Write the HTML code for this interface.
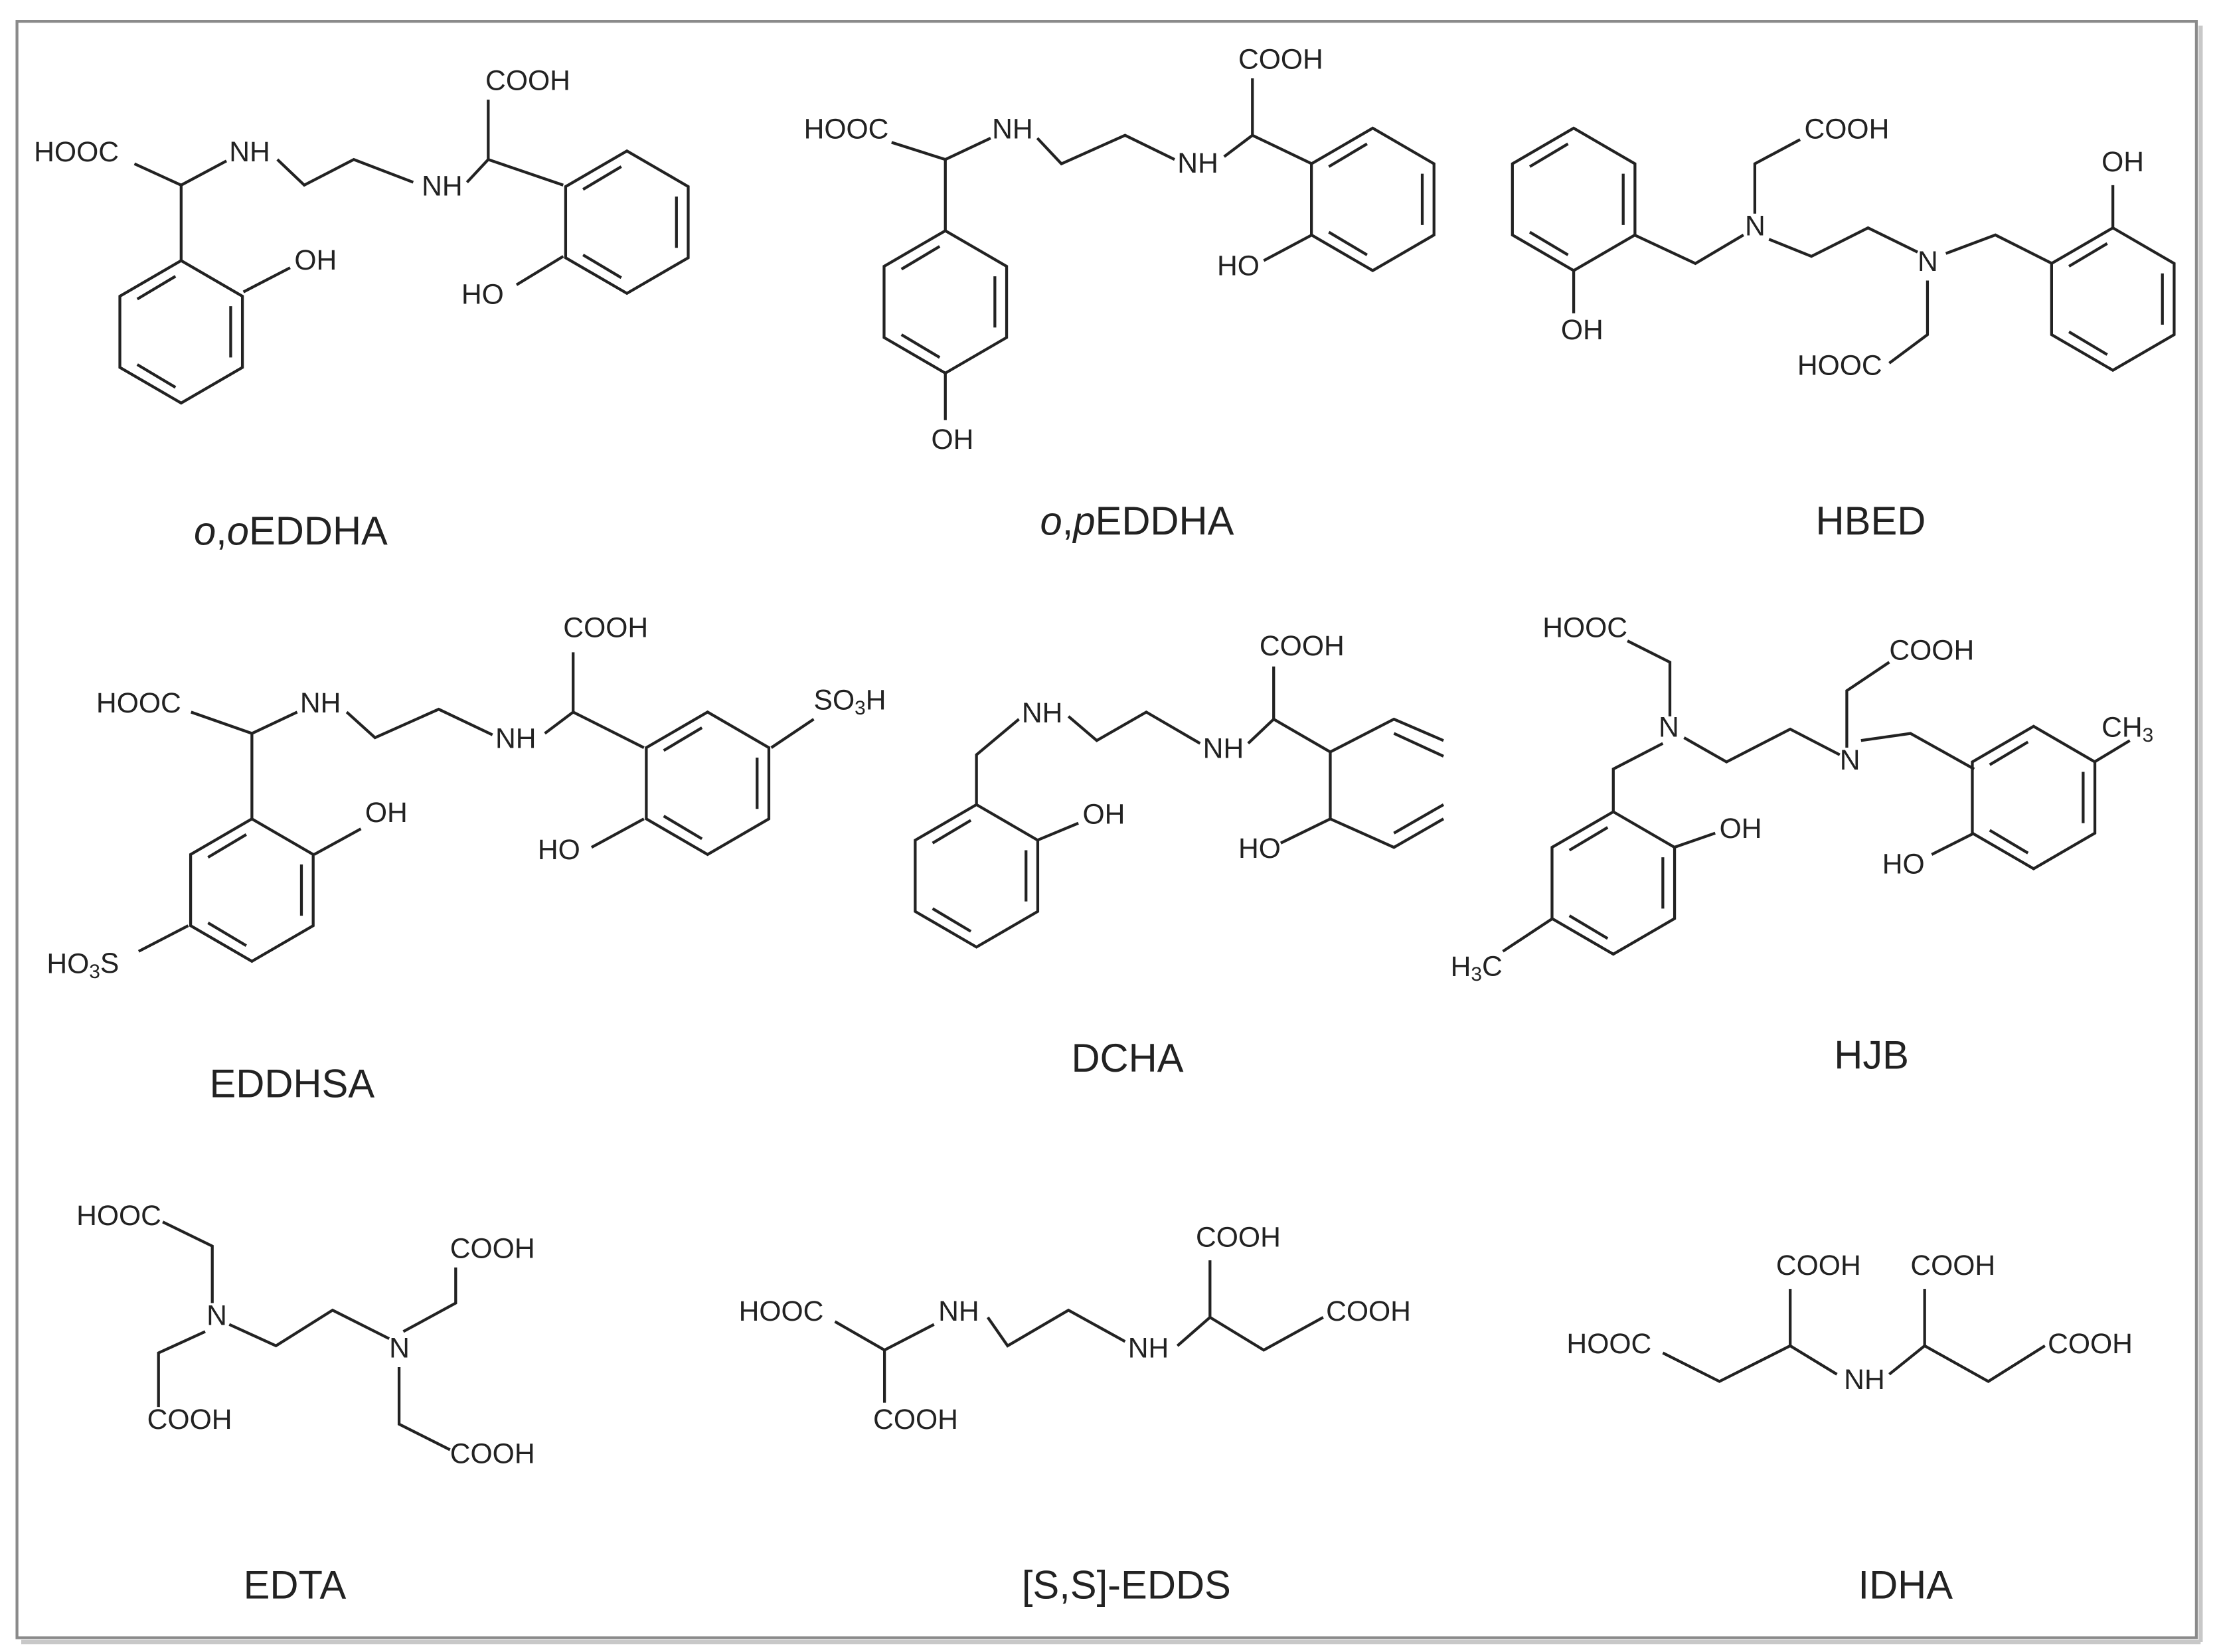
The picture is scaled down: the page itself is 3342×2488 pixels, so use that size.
<!DOCTYPE html>
<html><head><meta charset="utf-8"><style>
html,body{margin:0;padding:0;background:#fff;}
svg{display:block;}
text{font-family:"Liberation Sans",Arial,sans-serif;fill:#222;dominant-baseline:middle;}
.a{font-size:20px;}
.l{font-size:28px;}
</style></head><body>
<svg width="3342" height="2488" viewBox="0 0 1568 1160" preserveAspectRatio="none">
<defs>
<g id="bz" fill="none" stroke="#222" stroke-width="2">
<polygon points="0,-50 43.3,-25 43.3,25 0,50 -43.3,25 -43.3,-25"/>
<line x1="35" y1="-18" x2="35" y2="18"/>
<line x1="-4" y1="39" x2="-31" y2="23"/>
<line x1="-31" y1="-23" x2="-4" y2="-39"/>
</g>
</defs>
<rect x="0" y="0" width="1568" height="1160" fill="#fff"/>
<rect x="12" y="15" width="1540" height="1135" fill="none" stroke="#8a8a8a" stroke-width="2"/>
<line x1="1555" y1="18" x2="1555" y2="1153" stroke="#c8c8c8" stroke-width="3"/>
<line x1="15" y1="1153" x2="1555" y2="1153" stroke="#c8c8c8" stroke-width="3"/>

<g fill="none" stroke="#222" stroke-width="2">
<!-- o,oEDDHA -->
<polyline points="95,115 128,130 160,113"/>
<polyline points="196,112 215,130 250,112 292,128"/>
<polyline points="330,128 345,112 345,70"/>
<line x1="345" y1="112" x2="398" y2="130"/>
<line x1="365" y1="200" x2="398" y2="180"/>
<line x1="128" y1="130" x2="128" y2="183"/>
<line x1="172" y1="205" x2="205" y2="188"/>
<!-- o,pEDDHA -->
<polyline points="630,100 668,112 700,97"/>
<polyline points="733,97 750,115 795,95 830,112"/>
<polyline points="865,110 885,95 885,55"/>
<line x1="885" y1="95" x2="927" y2="115"/>
<line x1="927" y1="165" x2="893" y2="183"/>
<line x1="668" y1="112" x2="668" y2="162"/>
<line x1="668" y1="262" x2="668" y2="295"/>
<!-- HBED -->
<polyline points="1155,165 1198,185 1232,165"/>
<polyline points="1240,150 1240,115 1272,98"/>
<polyline points="1250,168 1280,180 1320,160 1355,177"/>
<polyline points="1362,197 1362,235 1335,255"/>
<polyline points="1375,178 1410,165 1450,185"/>
<line x1="1112" y1="190" x2="1112" y2="220"/>
<line x1="1493" y1="160" x2="1493" y2="130"/>
<!-- EDDHSA -->
<polyline points="135,500 178,515 210,500"/>
<polyline points="245,500 265,518 310,498 348,516"/>
<polyline points="385,515 405,500 405,458"/>
<line x1="405" y1="500" x2="455" y2="525"/>
<line x1="545" y1="525" x2="575" y2="505"/>
<line x1="455" y1="575" x2="418" y2="595"/>
<line x1="178" y1="515" x2="178" y2="575"/>
<line x1="222" y1="600" x2="255" y2="582"/>
<line x1="133" y1="650" x2="98" y2="668"/>
<!-- DCHA -->
<polyline points="690,565 690,530 720,505"/>
<polyline points="755,503 775,520 810,500 848,522"/>
<polyline points="882,522 900,505 900,468"/>
<line x1="900" y1="505" x2="940" y2="528"/>
<polyline points="1020,520 985,505 940,528 940,575 985,595 1020,575"/>
<line x1="985" y1="515" x2="1020" y2="531"/>
<line x1="985" y1="585" x2="1020" y2="565"/>
<line x1="733" y1="590" x2="762" y2="578"/>
<line x1="940" y1="575" x2="905" y2="592"/>
<!-- HJB -->
<polyline points="1150,450 1180,465 1180,503"/>
<polyline points="1175,522 1140,540 1140,570"/>
<polyline points="1190,518 1220,535 1265,512 1300,530"/>
<polyline points="1305,525 1305,485 1335,465"/>
<polyline points="1315,520 1350,515 1395,540"/>
<line x1="1480" y1="535" x2="1505" y2="520"/>
<line x1="1395" y1="585" x2="1365" y2="600"/>
<line x1="1183" y1="595" x2="1212" y2="585"/>
<line x1="1097" y1="645" x2="1062" y2="668"/>
<!-- EDTA -->
<polyline points="115,858 150,875 150,915"/>
<polyline points="162,930 195,945 235,920 275,940"/>
<polyline points="145,935 112,950 112,988"/>
<polyline points="285,935 322,915 322,890"/>
<polyline points="282,960 282,1000 318,1018"/>
<!-- EDDS -->
<polyline points="590,928 625,948 660,930"/>
<line x1="625" y1="948" x2="625" y2="985"/>
<polyline points="698,925 712,945 755,920 795,942"/>
<polyline points="832,945 855,925 855,885"/>
<polyline points="855,925 893,948 935,925"/>
<!-- IDHA -->
<polyline points="1175,950 1215,970 1265,945 1298,965"/>
<line x1="1265" y1="945" x2="1265" y2="905"/>
<polyline points="1335,965 1360,945 1405,970 1445,945"/>
<line x1="1360" y1="945" x2="1360" y2="905"/>
</g>

<use href="#bz" transform="translate(443,156)"/>
<use href="#bz" transform="translate(128,233)"/>
<use href="#bz" transform="translate(970,140)"/>
<use href="#bz" transform="translate(668,212)"/>
<use href="#bz" transform="translate(1112,140)"/>
<use href="#bz" transform="translate(1493,210)"/>
<use href="#bz" transform="translate(500,550)"/>
<use href="#bz" transform="translate(178,625)"/>
<use href="#bz" transform="translate(690,615)"/>
<use href="#bz" transform="translate(1140,620)"/>
<use href="#bz" transform="translate(1437,560)"/>

<g class="a">
<text x="24" y="108">HOOC</text><text x="162" y="108">NH</text><text x="298" y="132">NH</text>
<text x="343" y="58">COOH</text><text x="208" y="184">OH</text><text x="326" y="208">HO</text>
<text x="568" y="92">HOOC</text><text x="701" y="92">NH</text><text x="832" y="116">NH</text>
<text x="875" y="43">COOH</text><text x="860" y="188">HO</text><text x="658" y="310">OH</text>
<text x="1233" y="160">N</text><text x="1275" y="92">COOH</text><text x="1355" y="185">N</text>
<text x="1270" y="258">HOOC</text><text x="1103" y="233">OH</text><text x="1485" y="115">OH</text>
<text x="68" y="495">HOOC</text><text x="212" y="495">NH</text><text x="350" y="520">NH</text>
<text x="398" y="442">COOH</text><text x="575" y="493">SO<tspan font-size="14" dy="5">3</tspan><tspan dy="-5">H</tspan></text>
<text x="380" y="598">HO</text><text x="258" y="572">OH</text>
<text x="33" y="678">HO<tspan font-size="14" dy="5">3</tspan><tspan dy="-5">S</tspan></text>
<text x="722" y="502">NH</text><text x="850" y="527">NH</text><text x="890" y="455">COOH</text>
<text x="765" y="573">OH</text><text x="875" y="597">HO</text>
<text x="1090" y="442">HOOC</text><text x="1172" y="512">N</text><text x="1300" y="535">N</text>
<text x="1335" y="458">COOH</text><text x="1485" y="512">CH<tspan font-size="14" dy="5">3</tspan></text>
<text x="1330" y="608">HO</text><text x="1215" y="583">OH</text>
<text x="1025" y="680">H<tspan font-size="14" dy="5">3</tspan><tspan dy="-5">C</tspan></text>
<text x="54" y="855">HOOC</text><text x="146" y="925">N</text><text x="275" y="948">N</text>
<text x="104" y="998">COOH</text><text x="318" y="878">COOH</text><text x="318" y="1022">COOH</text>
<text x="522" y="922">HOOC</text><text x="663" y="922">NH</text><text x="797" y="948">NH</text>
<text x="617" y="998">COOH</text><text x="845" y="870">COOH</text><text x="937" y="922">COOH</text>
<text x="1107" y="945">HOOC</text><text x="1303" y="970">NH</text><text x="1255" y="890">COOH</text>
<text x="1350" y="890">COOH</text><text x="1447" y="945">COOH</text>
</g>
<g class="l">
<text x="137" y="375"><tspan font-style="italic">o</tspan>,<tspan font-style="italic">o</tspan>EDDHA</text>
<text x="735" y="368"><tspan font-style="italic">o</tspan>,<tspan font-style="italic">p</tspan>EDDHA</text>
<text x="1283" y="368">HBED</text>
<text x="148" y="763">EDDHSA</text>
<text x="757" y="745">DCHA</text>
<text x="1296" y="743">HJB</text>
<text x="172" y="1115">EDTA</text>
<text x="722" y="1115">[S,S]-EDDS</text>
<text x="1313" y="1115">IDHA</text>
</g>
</svg>
</body></html>
